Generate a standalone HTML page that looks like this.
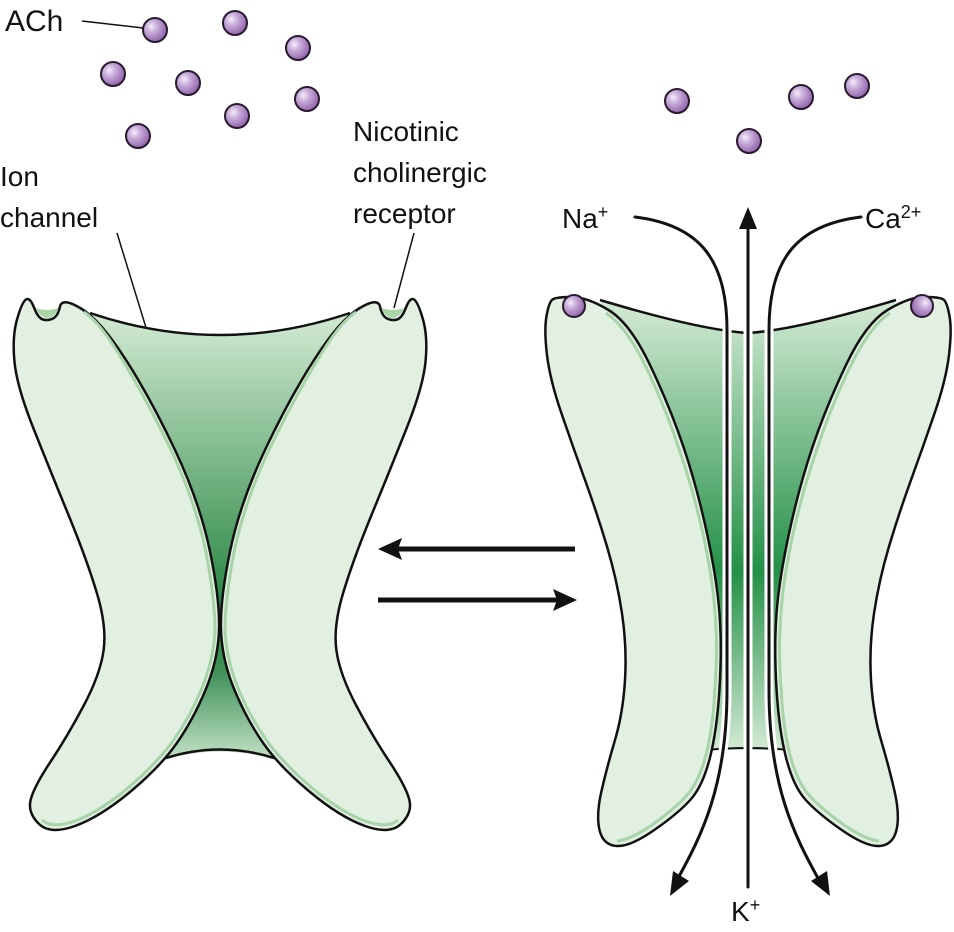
<!DOCTYPE html>
<html><head><style>
html,body{margin:0;padding:0;background:#fff;}
svg{display:block;}
text{font-family:"Liberation Sans",sans-serif;fill:#111;}
</style></head><body>
<svg width="954" height="932" viewBox="0 0 954 932" xmlns="http://www.w3.org/2000/svg">
<defs>
<radialGradient id="ball" cx="0.35" cy="0.35" r="0.7">
<stop offset="0" stop-color="#f3eef7"/><stop offset="0.35" stop-color="#c9aedb"/><stop offset="1" stop-color="#8e5fa8"/>
</radialGradient>
<linearGradient id="chL" x1="0" y1="313" x2="0" y2="760" gradientUnits="userSpaceOnUse">
<stop offset="0" stop-color="#d3ead3"/><stop offset="0.5" stop-color="#4f9d63"/><stop offset="0.66" stop-color="#2a8445"/><stop offset="0.8" stop-color="#3e9057"/><stop offset="1" stop-color="#c4e2c6"/>
</linearGradient>
<linearGradient id="chR" x1="0" y1="300" x2="0" y2="752" gradientUnits="userSpaceOnUse">
<stop offset="0" stop-color="#d5ebd5"/><stop offset="0.6" stop-color="#249048"/><stop offset="1" stop-color="#d5ebd5"/>
</linearGradient>
<g id="b"><circle r="12" fill="url(#ball)" stroke="#2a1a30" stroke-width="2"/></g>
</defs>

<use href="#b" x="155" y="30"/><use href="#b" x="235" y="23"/><use href="#b" x="298" y="48"/>
<use href="#b" x="113" y="74"/><use href="#b" x="188" y="83"/><use href="#b" x="237" y="116"/>
<use href="#b" x="307" y="99"/><use href="#b" x="138" y="136"/>
<use href="#b" x="677" y="101"/><use href="#b" x="801" y="97"/><use href="#b" x="857" y="86"/><use href="#b" x="749" y="141"/>

<text x="5" y="31" font-size="30">ACh</text>
<line x1="82" y1="21" x2="143" y2="28" stroke="#111" stroke-width="1.5"/>
<text x="0" y="186" font-size="28">Ion</text>
<text x="0" y="227" font-size="28">channel</text>
<line x1="117" y1="233" x2="155" y2="357" stroke="#111" stroke-width="1.5"/>
<text x="353" y="141" font-size="28">Nicotinic</text>
<text x="353" y="182" font-size="28">cholinergic</text>
<text x="353" y="223" font-size="28">receptor</text>
<line x1="414" y1="233" x2="394" y2="308" stroke="#111" stroke-width="1.5"/>

<path d="M90,313 Q220,357 350,313 L232,600 L282,762 Q220,741 158,762 L208,600 Z" fill="url(#chL)"/>
<path d="M90,313 Q220,357 350,313" fill="none" stroke="#111" stroke-width="2.5"/>
<path d="M166,758 Q220,741 274,758" fill="none" stroke="#111" stroke-width="2.5"/>
<g id="lsub">
<path d="M60,306.5 Q62,297 81,308.5 Q100,320 125,358.5 Q150,397 175,450 Q200,503 210,551.5 Q220,600 219,630 Q218,660 205.5,690 Q193,720 176.5,743.5 Q160,767 130,792 Q100,817 75,826 Q50,835 38.5,823.5 Q27,812 31,798.5 Q35,785 51,761 Q67,737 83.5,706 Q100,675 103.5,651 Q107,627 97,593.5 Q87,560 68.5,515 Q50,470 33.5,428.5 Q17,387 14.5,362 Q12,337 17,319.5 Q22,302 26,299.5 Q30,297 34,307.5 Q38,318 43,319.5 Q48,321 53,318.5 Q58,316 60,306.5 Z" fill="#e2f0e2" stroke="#111" stroke-width="2.5"/>
<path d="M36,308 Q40,318 48,318 Q56,317 58,308 Q47,312 36,308 Z" fill="#a9d6a9"/>
<path d="M84,312 Q101,323 123,361 Q147,400 172,452 Q196,504 206,552 Q215,600 215,630 Q214,658 202,688 Q190,717 173,741 Q157,763 128,788 Q99,812 75,821 Q52,829 42,820" fill="none" stroke="#a8d3a8" stroke-width="3"/>
</g>
<use href="#lsub" transform="translate(440,0) scale(-1,1)"/>

<line x1="575" y1="549" x2="395" y2="549" stroke="#111" stroke-width="5"/>
<path d="M378,549 L402,538 L398,549 L402,560 Z" fill="#111"/>
<line x1="378" y1="600" x2="558" y2="600" stroke="#111" stroke-width="5"/>
<path d="M577,600 L553,589 L557,600 L553,611 Z" fill="#111"/>

<path d="M600,300 Q710,332 748,333 Q786,332 896,300 L790,750 L706,750 Z" fill="url(#chR)"/>
<path d="M600,300 Q700,330 748,333 Q796,330 896,300" fill="none" stroke="#111" stroke-width="2.5"/>
<path d="M706,750 Q748,746 790,750" fill="none" stroke="#111" stroke-width="2"/>
<g id="rsub">
<path d="M571.5,297 Q587,297 608.5,310 Q630,323 650,365 Q670,407 683.5,447 Q697,487 707,533.5 Q717,580 719.5,613.5 Q722,647 719.5,688.5 Q717,730 710,757.5 Q703,785 691.5,798.5 Q680,812 655,829.5 Q630,847 616.5,846 Q603,845 599.5,830 Q596,815 601.5,791 Q607,767 615,740 Q623,713 625,680 Q627,647 622,613.5 Q617,580 607,546.5 Q597,513 585,480 Q573,447 561.5,413.5 Q550,380 547,355 Q544,330 546.5,316 Q549,302 552.5,299.5 Q556,297 571.5,297 Z" fill="#e2f0e2" stroke="#111" stroke-width="2.5"/>
<path d="M606,313 Q626,326 646,367 Q666,409 679,449 Q693,489 703,534 Q713,580 715,613 Q718,647 715,688 Q713,728 706,755 Q699,781 688,794 Q677,807 652,825 Q630,840 617,841" fill="none" stroke="#a8d3a8" stroke-width="3"/>
<circle cx="574" cy="306" r="11" fill="url(#ball)" stroke="#2a1a30" stroke-width="2"/>
</g>
<use href="#rsub" transform="translate(1496,0) scale(-1,1)"/>

<g fill="none" stroke-linecap="round">
<path d="M635,217 C700,225 727,260 727,330 L727,690 C727,785 702,835 677,880" stroke="#fff" stroke-width="9"/>
<path d="M861,217 C796,225 769,260 769,330 L769,690 C769,785 794,835 819,880" stroke="#fff" stroke-width="9"/>
<line x1="748" y1="228" x2="748" y2="887" stroke="#fff" stroke-width="9"/>
<path d="M635,217 C700,225 727,260 727,330 L727,690 C727,785 702,835 677,880" stroke="#111" stroke-width="3"/>
<path d="M861,217 C796,225 769,260 769,330 L769,690 C769,785 794,835 819,880" stroke="#111" stroke-width="3"/>
<line x1="748" y1="225" x2="748" y2="887" stroke="#111" stroke-width="3"/>
</g>
<path d="M748,207 L739,229 L757,229 Z" fill="#111"/>
<path d="M670,896 L673,871 L689,881 Z" fill="#111"/>
<path d="M830,896 L811,881 L827,871 Z" fill="#111"/>

<text x="562" y="228" font-size="28">Na<tspan font-size="18" dy="-10">+</tspan></text>
<text x="865" y="228" font-size="28">Ca<tspan font-size="18" dy="-10">2+</tspan></text>
<text x="731" y="921" font-size="28">K<tspan font-size="18" dy="-10">+</tspan></text>
</svg>
</body></html>
